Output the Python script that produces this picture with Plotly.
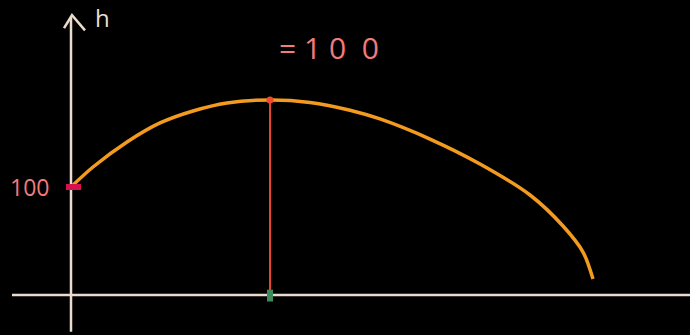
import plotly.graph_objects as go

# sketch of h(t): a ball thrown up from h = 100, peak at the vertex
t_vals = [0.0, 0.22, 0.56, 0.89, 1.22, 1.56, 1.99, 2.39, 2.79, 3.09, 3.59, 4.09, 4.59, 4.92, 5.12, 5.22]
h_vals = [100, 118.5, 141.7, 159.3, 170.4, 177.8, 180.6, 178.3, 171.1, 163.0, 144.4, 121.3, 92.6, 63.9, 39.8, 14.8]

t_peak = 1.99
h_peak = 180.6
h_start = 100

# axes of the drawing
t_axis = [-0.59, 6.19]
h_axis = [-34, 257]
arrow_t = [-0.07, 0.01, 0.14]
arrow_h = [247, 259, 245]

AXIS = "#e9dccd"
ORANGE = "#f29b1f"
PINK = "#f07c7c"

fig = go.Figure()

# horizontal axis
fig.add_trace(go.Scatter(x=t_axis, y=[0, 0], mode="lines",
                         line=dict(color=AXIS, width=2.5)))
# vertical axis with arrow head
fig.add_trace(go.Scatter(x=[0, 0], y=h_axis, mode="lines",
                         line=dict(color=AXIS, width=2.5)))
fig.add_trace(go.Scatter(x=arrow_t, y=arrow_h, mode="lines",
                         line=dict(color=AXIS, width=2.5)))

# the parabola
fig.add_trace(go.Scatter(x=t_vals, y=h_vals, mode="lines",
                         line=dict(color=ORANGE, width=3.5, shape="spline", smoothing=0.9)))

# vertex line down to the t axis
fig.add_trace(go.Scatter(x=[t_peak, t_peak], y=[0, h_peak], mode="lines",
                         line=dict(color="#e8442c", width=2)))
fig.add_trace(go.Scatter(x=[t_peak], y=[h_peak], mode="markers",
                         marker=dict(color="#f04a2e", size=7)))

# marks on the axes
fig.add_trace(go.Scatter(x=[-0.05, 0.1], y=[h_start, h_start], mode="lines",
                         line=dict(color="#d4124e", width=6)))
fig.add_trace(go.Scatter(x=[t_peak, t_peak], y=[-6, 5], mode="lines",
                         line=dict(color="#3d8a5c", width=6)))

fig.add_annotation(x=-0.42, y=h_start, text="100", showarrow=False,
                   font=dict(family="Open Sans", size=23, color=PINK))
fig.add_annotation(x=0.31, y=257, text="h", showarrow=False,
                   font=dict(family="Open Sans", size=24, color=AXIS))
fig.add_annotation(x=2.58, y=229, text="= 1 0 &nbsp;0", showarrow=False,
                   font=dict(family="Open Sans", size=30, color=PINK))

fig.update_xaxes(range=[-0.71, 6.19], visible=False)
fig.update_yaxes(range=[-37.0, 273.1], visible=False)
fig.update_layout(width=690, height=335, showlegend=False,
                  margin=dict(l=0, r=0, t=0, b=0),
                  paper_bgcolor="black", plot_bgcolor="black")

fig.write_html("out.html", config={"displayModeBar": False},
               post_script="document.body.style.margin='0';")
